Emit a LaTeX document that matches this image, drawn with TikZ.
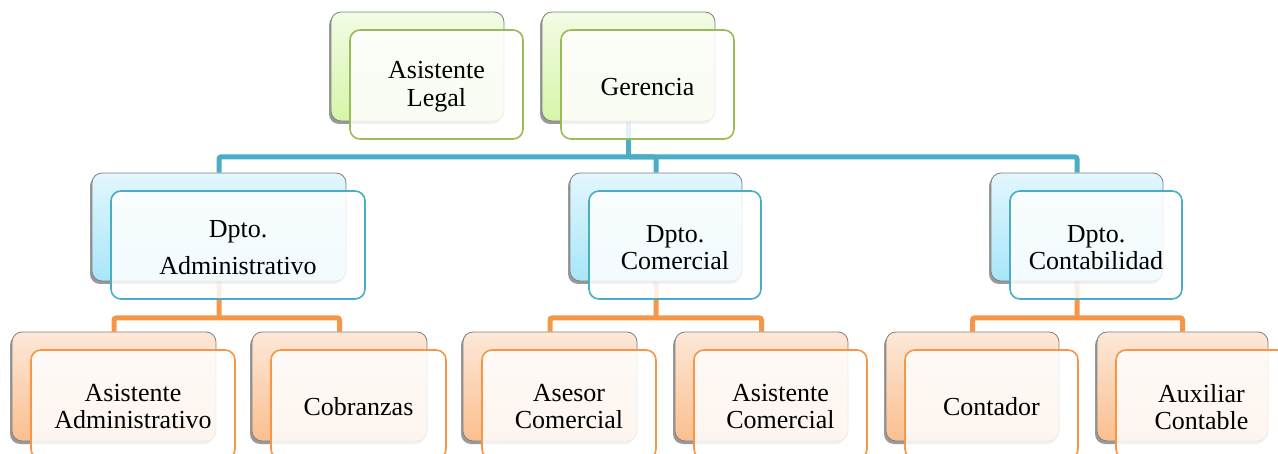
\documentclass[tikz,border=0pt]{standalone}
\usepackage{fontspec}
\setmainfont{Liberation Serif}
\usetikzlibrary{shadows,backgrounds}
\definecolor{gline}{HTML}{9BBB59}
\definecolor{gtop}{HTML}{F2FCE6}
\definecolor{gbot}{HTML}{D6F5A8}
\definecolor{bline}{HTML}{4BACC6}
\definecolor{btop}{HTML}{E3F7FD}
\definecolor{bbot}{HTML}{A8E6FA}
\definecolor{oline}{HTML}{F79646}
\definecolor{otop}{HTML}{FDE8D8}
\definecolor{obot}{HTML}{FBBF8F}
\tikzset{
  backbox/.style={rounded corners=10pt, draw=black!50, line width=0.8pt, inner sep=0pt,
    drop shadow={shadow xshift=-2pt, shadow yshift=-3pt, opacity=0.4, fill=black}},
  frontbox/.style={rounded corners=10pt, line width=1.6pt, inner sep=0pt,
    fill=white, fill opacity=0.85, draw opacity=1},
  labeltext/.style={inner sep=0pt, align=center, text=black},
  gback/.style={backbox, top color=gtop, bottom color=gbot},
  bback/.style={backbox, top color=btop, bottom color=bbot},
  oback/.style={backbox, top color=otop, bottom color=obot},
  gfront/.style={frontbox, draw=gline},
  bfront/.style={frontbox, draw=bline},
  ofront/.style={frontbox, draw=oline},
  bconn/.style={draw=bline, line width=5pt, rounded corners=2pt},
  oconn/.style={draw=oline, line width=5pt, rounded corners=2pt},
}
\newcommand\obox[8]{%
  \node[#6back, minimum width=#4pt, minimum height=#5pt] (#1B) at ({#2+#4/2},{#3+#5/2}) {};
  \node[#6front, minimum width=#4pt, minimum height=#5pt] (#1F) at ({#2+#4/2+19},{#3+#5/2+18}) {};
  \node[labeltext, font=\fontsize{26}{#8}\selectfont] (#1T) at ({#2+#4/2+19},{#3+#5/2+20.5}) {#7};
}
\begin{document}
\begin{tikzpicture}[x=1pt,y=-1pt]
\useasboundingbox (0,0) rectangle (1278,454);
\obox{legal}{331}{12}{173}{109}{g}{Asistente\\Legal}{28}
\obox{ger}{542}{12}{173}{109}{g}{Gerencia}{28}
\obox{adm}{92}{173}{254}{108}{b}{Dpto.\\Administrativo}{37}
\obox{com}{570}{173}{172}{108}{b}{Dpto.\\Comercial}{27}
\obox{cont}{991}{173}{172}{108}{b}{Dpto.\\Contabilidad}{27}
\obox{asadm}{12}{332}{204}{109}{o}{Asistente\\Administrativo}{27}
\obox{cob}{252}{332}{175}{109}{o}{Cobranzas}{27}
\obox{ases}{463}{332}{174}{109}{o}{Asesor\\Comercial}{27}
\obox{ascom}{675}{332}{173}{109}{o}{Asistente\\Comercial}{27}
\obox{contad}{886}{332}{173}{109}{o}{Contador}{27}
\obox{aux}{1097}{332}{171}{109}{o}{Auxiliar\\Contable}{27}
\coordinate (bbus) at (0,157);
\coordinate (obus) at (0,318);
\begin{scope}[on background layer]
  \draw[bconn] (gerB.south) -- (gerB.south |- bbus) -| (admB.north);
  \draw[bconn] (gerB.south |- bbus) -| (comB.north);
  \draw[bconn] (gerB.south |- bbus) -| (contB.north);
  \draw[oconn] (admB.south) -- (admB.south |- obus) -| (asadmB.north);
  \draw[oconn] (admB.south |- obus) -| (cobB.north);
  \draw[oconn] (comB.south) -- (comB.south |- obus) -| (asesB.north);
  \draw[oconn] (comB.south |- obus) -| (ascomB.north);
  \draw[oconn] (contB.south) -- (contB.south |- obus) -| (contadB.north);
  \draw[oconn] (contB.south |- obus) -| (auxB.north);
\end{scope}
\end{tikzpicture}
\end{document}
